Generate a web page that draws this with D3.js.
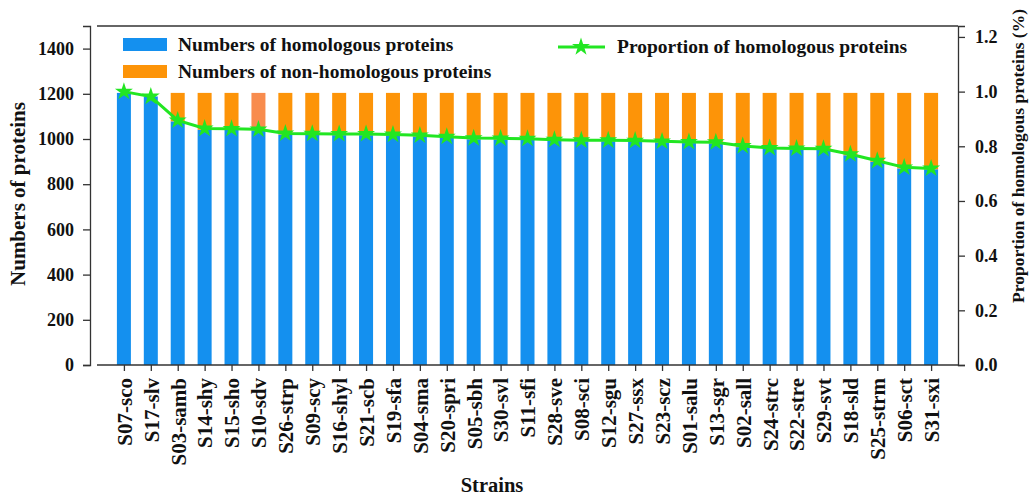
<!DOCTYPE html>
<html>
<head>
<meta charset="utf-8">
<script src="https://cdn.jsdelivr.net/npm/d3@7"></script>
<style>
body { margin: 0; background: #fff; }
text { font-family: "Liberation Serif", "Times New Roman", serif; font-weight: bold; fill: #111; }
.axis path, .axis line { stroke: #333; stroke-width: 1.3; }
</style>
</head>
<body>
<svg id="vis-svg" width="1033" height="496"></svg>
<script>

// Data
var strains = ["S07-sco","S17-slv","S03-samb","S14-shy","S15-sho","S10-sdv","S26-strp","S09-scy","S16-shyl","S21-scb",
  "S19-sfa","S04-sma","S20-spri","S05-sbh","S30-svl","S11-sfi","S28-sve","S08-sci","S12-sgu","S27-ssx",
  "S23-scz","S01-salu","S13-sgr","S02-sall","S24-strc","S22-stre","S29-svt","S18-sld","S25-strm","S06-sct","S31-sxi"];
var homologous = [1204, 1188, 1078, 1041, 1040, 1038, 1020, 1019, 1017, 1017,
  1015, 1011, 1005, 999, 998, 997, 992, 990, 990, 988,
  985, 982, 981, 964, 956, 954, 952, 928, 899, 870, 866];
var nonHomologous = [0, 0, 126, 163, 164, 166, 184, 185, 187, 187,
  189, 193, 199, 205, 206, 207, 212, 214, 214, 216,
  219, 222, 223, 240, 248, 250, 252, 276, 305, 334, 338];
var proportion = [1.0, 0.982, 0.895, 0.865, 0.864, 0.862, 0.847, 0.846, 0.845, 0.845,
  0.843, 0.840, 0.835, 0.830, 0.829, 0.828, 0.824, 0.822, 0.822, 0.821,
  0.818, 0.816, 0.815, 0.801, 0.794, 0.792, 0.791, 0.771, 0.747, 0.723, 0.719];
var leftTicks = [0, 200, 400, 600, 800, 1000, 1200, 1400];
var rightTicks = [0, 0.2, 0.4, 0.6, 0.8, 1.0, 1.2];

function drawChart() {

var blue = '#1490ef';
var orange = '#fd9408';
var orangeLight = '#f88c4e';
var green = '#22e622';

var svg = d3.select('#vis-svg');

var plotLeft = 97, plotRight = 958, plotTop = 26, plotBottom = 365;

// X scale
var x = d3.scalePoint()
  .domain(strains)
  .range([plotLeft, plotRight])
  .padding(1);
var barW = 14;

// Y scales
var yL = d3.scaleLinear().domain([0, 1500]).range([plotBottom, plotTop]);
var yR = d3.scaleLinear().domain([0, 1.24]).range([plotBottom, plotTop]);

// Bars
var bars = svg.append('g');
strains.forEach(function(s, i) {
  bars.append('rect')
    .attr('x', x(s) - barW / 2)
    .attr('width', barW)
    .attr('y', yL(homologous[i]))
    .attr('height', yL(0) - yL(homologous[i]))
    .attr('fill', blue);
  if (nonHomologous[i] > 0) {
    bars.append('rect')
      .attr('x', x(s) - barW / 2)
      .attr('width', barW)
      .attr('y', yL(homologous[i] + nonHomologous[i]))
      .attr('height', yL(homologous[i]) - yL(homologous[i] + nonHomologous[i]))
      .attr('fill', s == 'S10-sdv' ? orangeLight : orange);
  }
});

// Frame top
svg.append('line').attr('x1', plotLeft).attr('x2', plotRight).attr('y1', plotTop).attr('y2', plotTop)
  .attr('stroke', '#333').attr('stroke-width', 1.3);

// X Axis
var xAxis = svg.append('g')
  .attr('class', 'x axis')
  .attr('transform', 'translate(0,' + plotBottom + ')')
  .call(d3.axisBottom(x).tickSizeOuter(0).tickSize(6));
xAxis.select('.domain').attr('d', 'M' + plotLeft + ',0H' + plotRight);
xAxis.selectAll('text')
  .attr('transform', 'rotate(-90)')
  .attr('x', -13)
  .attr('y', 0)
  .attr('dy', '0.35em')
  .style('text-anchor', 'end')
  .style('font-size', '21px');

// Left Y axis (detached)
var yAxisL = svg.append('g')
  .attr('class', 'y axis')
  .attr('transform', 'translate(90,0)')
  .call(d3.axisLeft(yL).tickValues(leftTicks).tickFormat(d3.format('d')).tickSizeOuter(0).tickSize(7));
yAxisL.selectAll('text').style('font-size', '18px').attr('x', -16);

// Right Y axis
var yAxisR = svg.append('g')
  .attr('class', 'y axis')
  .attr('transform', 'translate(' + plotRight + ',0)')
  .call(d3.axisRight(yR).tickValues(rightTicks).tickFormat(d3.format('.1f')).tickSizeOuter(0).tickSize(7));
yAxisR.selectAll('text').style('font-size', '18px').attr('x', 17);

// Proportion line
var line = d3.line()
  .x(function(d, i) { return x(strains[i]); })
  .y(function(d) { return yR(d); });
svg.append('path')
  .attr('d', line(proportion))
  .attr('fill', 'none')
  .attr('stroke', green)
  .attr('stroke-width', 3);
svg.selectAll('.star')
  .data(proportion)
  .enter().append('path')
  .attr('class', 'star')
  .attr('transform', function(d, i) { return 'translate(' + x(strains[i]) + ',' + yR(d) + ')'; })
  .attr('d', d3.symbol().type(d3.symbolStar).size(100))
  .attr('fill', green);

// Axis titles
svg.append('text')
  .attr('transform', 'translate(25,194) rotate(-90)')
  .style('text-anchor', 'middle')
  .style('font-size', '21px')
  .text('Numbers of proteins');
svg.append('text')
  .attr('transform', 'translate(1024,156) rotate(-90)')
  .style('text-anchor', 'middle')
  .style('font-size', '17.5px')
  .text('Proportion of homologous proteins (%)');
svg.append('text')
  .attr('x', 492)
  .attr('y', 492)
  .style('text-anchor', 'middle')
  .style('font-size', '20.5px')
  .text('Strains');

// Legend
var legend = svg.append('g');
legend.append('rect').attr('x', 123).attr('y', 38).attr('width', 44).attr('height', 13).attr('fill', blue);
legend.append('text').attr('x', 178).attr('y', 51).style('font-size', '19.5px').text('Numbers of homologous proteins');
legend.append('rect').attr('x', 123).attr('y', 65).attr('width', 44).attr('height', 13).attr('fill', orange);
legend.append('text').attr('x', 178).attr('y', 78).style('font-size', '19.5px').text('Numbers of non-homologous proteins');
legend.append('line').attr('x1', 558).attr('x2', 605).attr('y1', 47).attr('y2', 47)
  .attr('stroke', green).attr('stroke-width', 3);
legend.append('path').attr('transform', 'translate(581,47)')
  .attr('d', d3.symbol().type(d3.symbolStar).size(100)).attr('fill', green);
legend.append('text').attr('x', 617).attr('y', 53).style('font-size', '19.5px').text('Proportion of homologous proteins');

}

drawChart();

</script>
</body>
</html>
